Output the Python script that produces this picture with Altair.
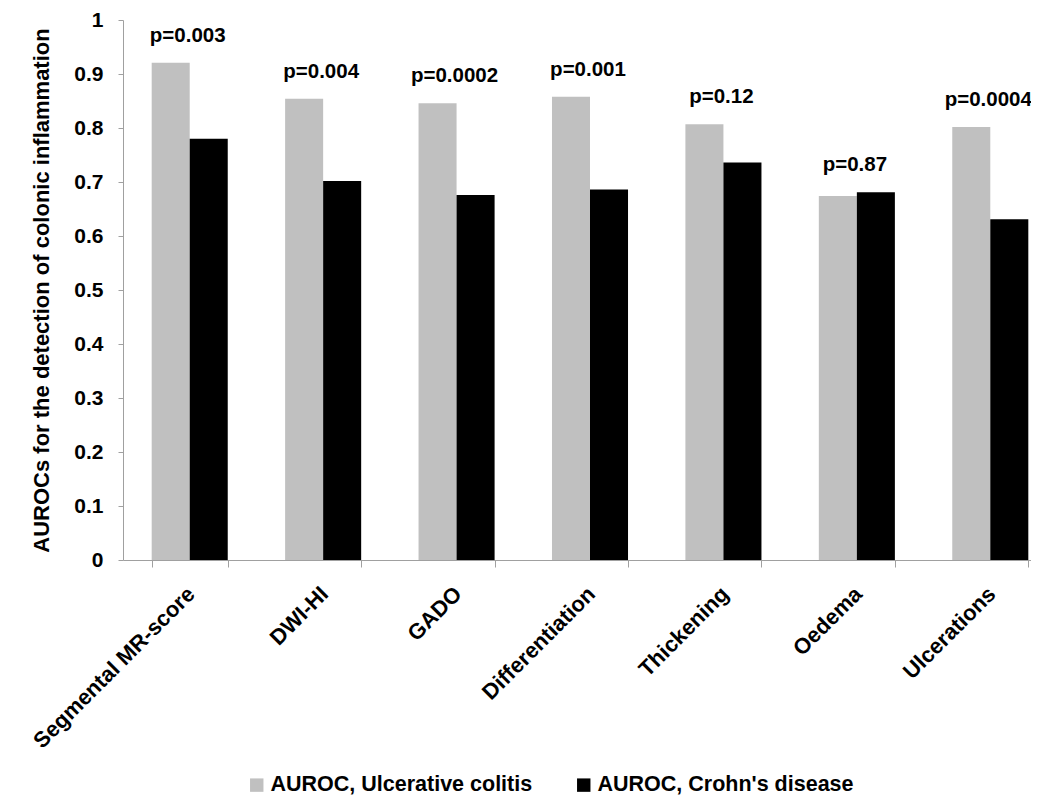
import altair as alt
import pandas as pd

categories = ["Segmental MR-score", "DWI-HI", "GADO", "Differentiation",
              "Thickening", "Oedema", "Ulcerations"]
auroc_uc = [0.921, 0.854, 0.846, 0.858, 0.807, 0.674, 0.802]
auroc_cd = [0.780, 0.702, 0.676, 0.686, 0.736, 0.681, 0.631]
p_labels = ["p=0.003", "p=0.004", "p=0.0002", "p=0.001", "p=0.12", "p=0.87", "p=0.0004"]
series_names = ["AUROC, Ulcerative colitis", "AUROC, Crohn's disease"]
series_colors = ["#c0c0c0", "#000000"]
y_ticks = [0, 0.1, 0.2, 0.3, 0.4, 0.5, 0.6, 0.7, 0.8, 0.9, 1.0]

rows = []
for c, a, b in zip(categories, auroc_uc, auroc_cd):
    rows.append({"category": c, "series": series_names[0], "value": a})
    rows.append({"category": c, "series": series_names[1], "value": b})
bars_df = pd.DataFrame(rows)

p_df = pd.DataFrame({
    "category": categories,
    "top": [max(a, b) for a, b in zip(auroc_uc, auroc_cd)],
    "p": p_labels,
})

FONT = "Liberation Sans"
AX = "#a0a0a0"

x_enc = alt.X(
    "category:N",
    sort=categories,
    scale=alt.Scale(range=[0, 934], paddingInner=0.43, paddingOuter=0.215),
    axis=alt.Axis(
        title=None, labelAngle=-45, labelAlign="right", labelBaseline="top",
        labelPadding=16, labelOffset=-6, tickBand="extent", tickSize=7,
        domainColor=AX, tickColor=AX, labelFont=FONT, labelFontSize=22,
        labelFontWeight="bold", labelColor="black", labelLimit=400,
    ),
)

y_enc = alt.Y(
    "value:Q",
    scale=alt.Scale(domain=[0, 1], nice=False),
    axis=alt.Axis(
        title="AUROCs for the detection of colonic inflammation",
        values=y_ticks, format=".1~f", grid=False, tickSize=5,
        labelPadding=15, domainColor=AX, tickColor=AX,
        labelFont=FONT, labelFontSize=21, labelFontWeight="bold", labelColor="black",
        titleFont=FONT, titleFontSize=22, titleFontWeight="bold", titleColor="black",
        titlePadding=20,
    ),
)

bars = alt.Chart(bars_df).mark_bar().encode(
    x=x_enc,
    xOffset=alt.XOffset("series:N", sort=series_names,
                        scale=alt.Scale(paddingInner=0, paddingOuter=0)),
    y=y_enc,
    color=alt.Color(
        "series:N",
        sort=series_names,
        scale=alt.Scale(domain=series_names, range=series_colors),
        legend=alt.Legend(
            title=None, orient="none", legendX=123, legendY=754,
            direction="horizontal", columns=2, columnPadding=40,
            symbolType="square", symbolSize=180, symbolStrokeWidth=0,
            symbolOpacity=1, labelOffset=3,
            labelFont=FONT, labelFontSize=21.5, labelFontWeight="bold",
            labelColor="black", labelLimit=400,
        ),
    ),
)

texts = alt.Chart(p_df).mark_text(
    dy=-21, dx=-2, baseline="alphabetic", align="center",
    font=FONT, fontSize=20.5, fontWeight="bold", color="black",
).encode(
    x=alt.X("category:N", sort=categories),
    y=alt.Y("top:Q"),
    text="p:N",
)

chart = alt.layer(bars, texts).properties(
    width=908, height=540,
    autosize=alt.AutoSizeParams(type="none"),
    padding={"left": 115, "top": 12, "right": 0, "bottom": 238},
).configure_view(stroke=None)

chart.save("out.html", embed_options={"renderer": "svg", "actions": False})
